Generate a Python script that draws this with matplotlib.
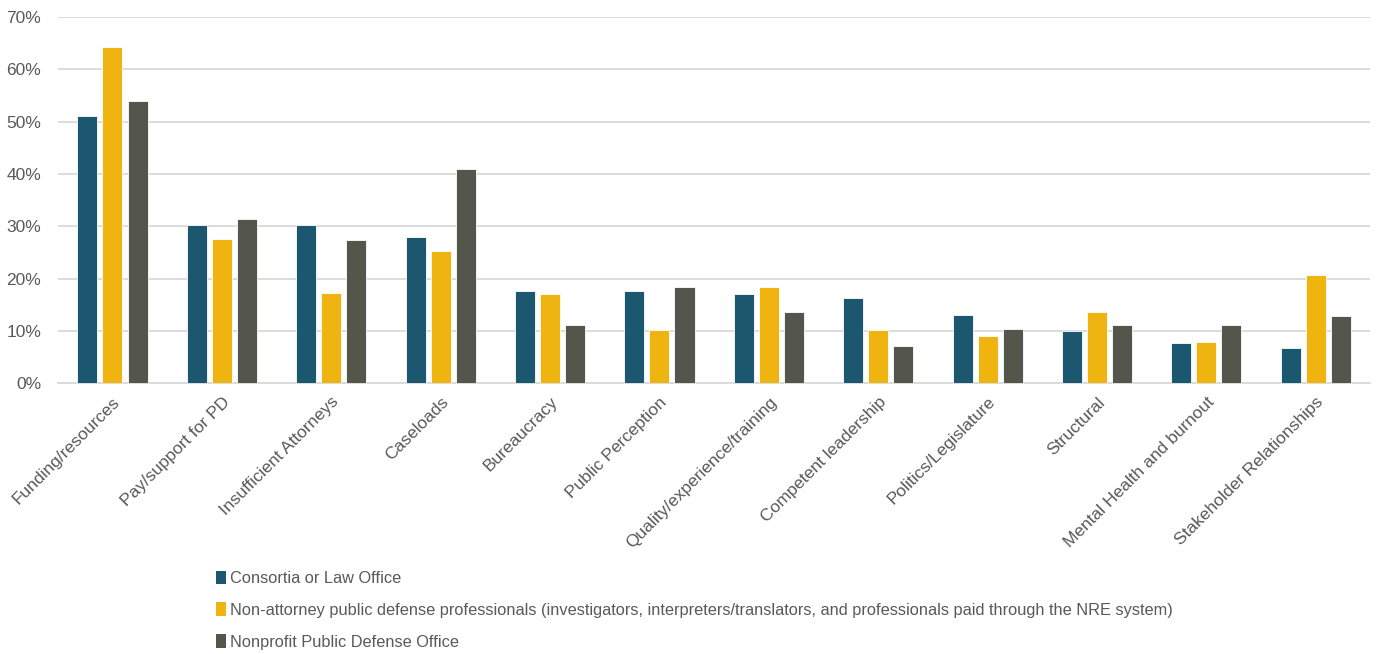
import numpy as np
import matplotlib.pyplot as plt
from matplotlib.patches import Patch

plt.rcParams['font.family'] = ['Liberation Sans', 'DejaVu Sans']

categorias = ["Funding/resources", "Pay/support for PD", "Insufficient Attorneys", "Caseloads",
              "Bureaucracy", "Public Perception", "Quality/experience/training",
              "Competent leadership", "Politics/Legislature", "Structural",
              "Mental Health and burnout", "Stakeholder Relationships"]

series = ["Consortia or Law Office",
          "Non-attorney public defense professionals (investigators, interpreters/translators, and professionals paid through the NRE system)",
          "Nonprofit Public Defense Office"]

consorcio = [51.0, 30.2, 30.2, 27.9, 17.7, 17.7, 17.0, 16.2, 13.1, 10.0, 7.6, 6.8]
no_abogado = [64.2, 27.5, 17.2, 25.2, 17.1, 10.2, 18.3, 10.2, 9.1, 13.7, 7.9, 20.6]
sin_lucro = [53.9, 31.4, 27.3, 40.9, 11.1, 18.4, 13.6, 7.1, 10.4, 11.2, 11.2, 12.8]

colores = ["#1B5870", "#F0B411", "#54554B"]
texto = "#595959"

fig = plt.figure(figsize=(13.76, 6.54), dpi=100)
ax = fig.add_axes([0.042, 0.414, 0.954, 0.56])

x = np.arange(len(categorias))
ancho = 0.183
paso = 0.229
for i, (vals, col) in enumerate(zip([consorcio, no_abogado, sin_lucro], colores)):
    ax.bar(x + (i - 1) * paso, vals, width=ancho, color=col, edgecolor="white",
           linewidth=0.6, zorder=3)

ax.set_xlim(-0.5, len(categorias) - 0.5)
ax.set_ylim(0, 70)
ax.set_yticks(range(0, 71, 10))
ax.set_yticklabels([f"{v}%" for v in range(0, 71, 10)], fontsize=12.5, color=texto)
ax.set_xticks(x)
ax.set_xticklabels(categorias, rotation=45, ha="right", rotation_mode="anchor",
                   fontsize=12.5, color=texto)
ax.tick_params(axis="x", length=0, pad=8)
ax.tick_params(axis="y", length=0, pad=12)
ax.grid(axis="y", color="#D9D9D9", linewidth=1.3, zorder=0)
for lado in ["top", "right", "left"]:
    ax.spines[lado].set_visible(False)
ax.spines["bottom"].set_color("#D9D9D9")
ax.spines["bottom"].set_linewidth(1.3)

manijas = [Patch(facecolor=c, edgecolor="none") for c in colores]
fig.legend(manijas, series, loc="upper left", bbox_to_anchor=(0.152, 0.1375),
           frameon=False, fontsize=11.8, labelcolor=texto, handlelength=0.6,
           handleheight=0.9, handletextpad=0.25, labelspacing=1.0, borderaxespad=0)

fig.savefig("out.png", dpi=100)
